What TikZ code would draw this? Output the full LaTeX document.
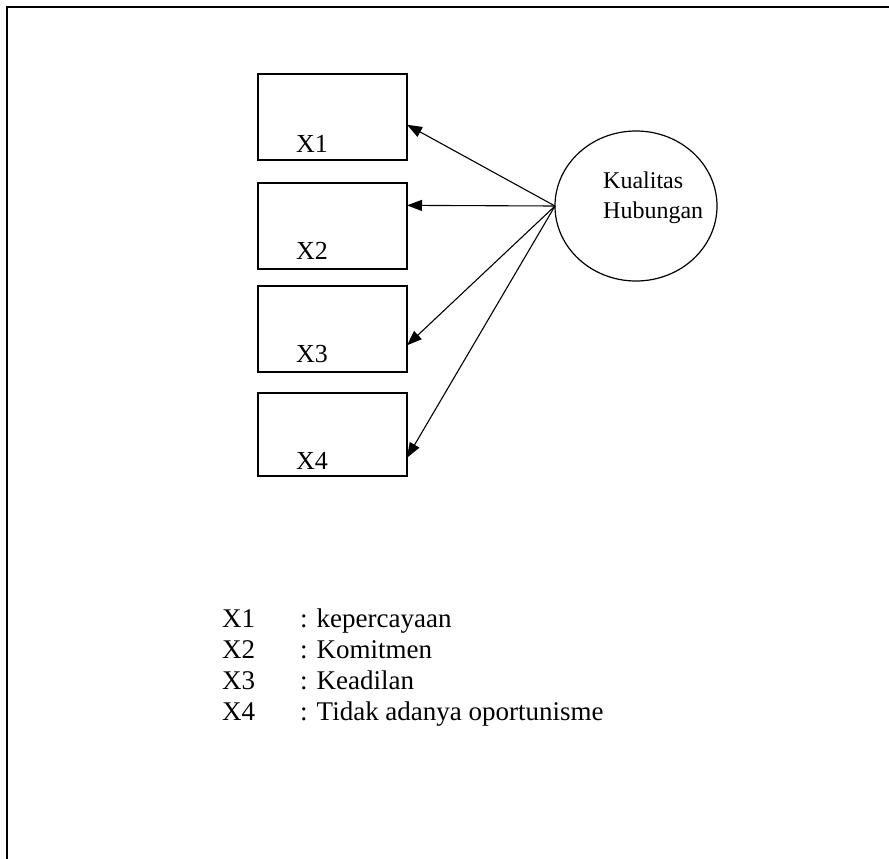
\documentclass[tikz,border=0pt]{standalone}
\usepackage{fontspec}
\setmainfont{Liberation Serif}
\usetikzlibrary{arrows.meta,shapes.geometric,calc}

\begin{document}
\begin{tikzpicture}[x=1pt,y=-1pt,
  frameline/.style={line width=2pt},
  indbox/.style={draw,line width=1.4pt,rectangle,minimum width=149pt,inner sep=0pt,outer sep=0pt},
  latent/.style={draw,line width=1.2pt,ellipse,inner sep=0pt,outer sep=0pt},
  boxlabel/.style={font=\fontsize{26}{30}\selectfont,inner sep=0pt,anchor=base west},
  path/.style={line width=1.1pt,-{Triangle[length=15pt,width=11pt]}},
  legend/.style={font=\fontsize{27}{31}\selectfont,inner sep=0pt,anchor=base west}
]
\useasboundingbox (0,0) rectangle (889,859);

% page frame: top and left rules only
\coordinate (fc) at (7,7);
\coordinate (fr) at (889,7);
\coordinate (fb) at (7,859);
\draw[frameline] (fr) -- (fc) -- (fb);

% indicator boxes
\node[indbox,minimum height=86pt] (b1) at (332.5,117) {};
\node[indbox,minimum height=86pt] (b2) at (332.5,226) {};
\node[indbox,minimum height=86pt] (b3) at (332.5,329) {};
\node[indbox,minimum height=83pt] (b4) at (332.5,434.5) {};

\node[boxlabel] (l1) at (296,152) {X1};
\node[boxlabel] (l2) at (296,259) {X2};
\node[boxlabel] (l3) at (296,362) {X3};
\node[boxlabel] (l4) at (296,469) {X4};

% latent construct (two-line label, baseline of the last line given)
\node[latent,minimum width=162pt,minimum height=150pt] (kh) at (636,206) {};
\node[font=\fontsize{24}{30}\selectfont,align=left,anchor=base west,inner sep=0pt] (khtext) at (603,218) {Kualitas\\Hubungan};

% arrow targets on the right edges of the boxes
\coordinate (t1) at ($(b1.north east)!0.59!(b1.south east)$);
\coordinate (t2) at ($(b2.north east)!0.26!(b2.south east)$);
\coordinate (t3) at ($(b3.north east)!0.69!(b3.south east)$);
\coordinate (t4) at ($(b4.north east)!0.78!(b4.south east)$);

\draw[path] (kh.west) -- (t1);
\draw[path] (kh.west) -- (t2);
\draw[path] (kh.west) -- (t3);
\draw[path] (kh.west) -- (t4);

% legend
\node[legend] (k1) at (222,627) {X1};
\node[legend] (k2) at (222,658) {X2};
\node[legend] (k3) at (222,689) {X3};
\node[legend] (k4) at (222,720) {X4};
\node[legend] (d1) at (300,627) {: kepercayaan};
\node[legend] (d2) at (300,658) {: Komitmen};
\node[legend] (d3) at (300,689) {: Keadilan};
\node[legend] (d4) at (300,720) {: Tidak adanya oportunisme};
\end{tikzpicture}
\end{document}
